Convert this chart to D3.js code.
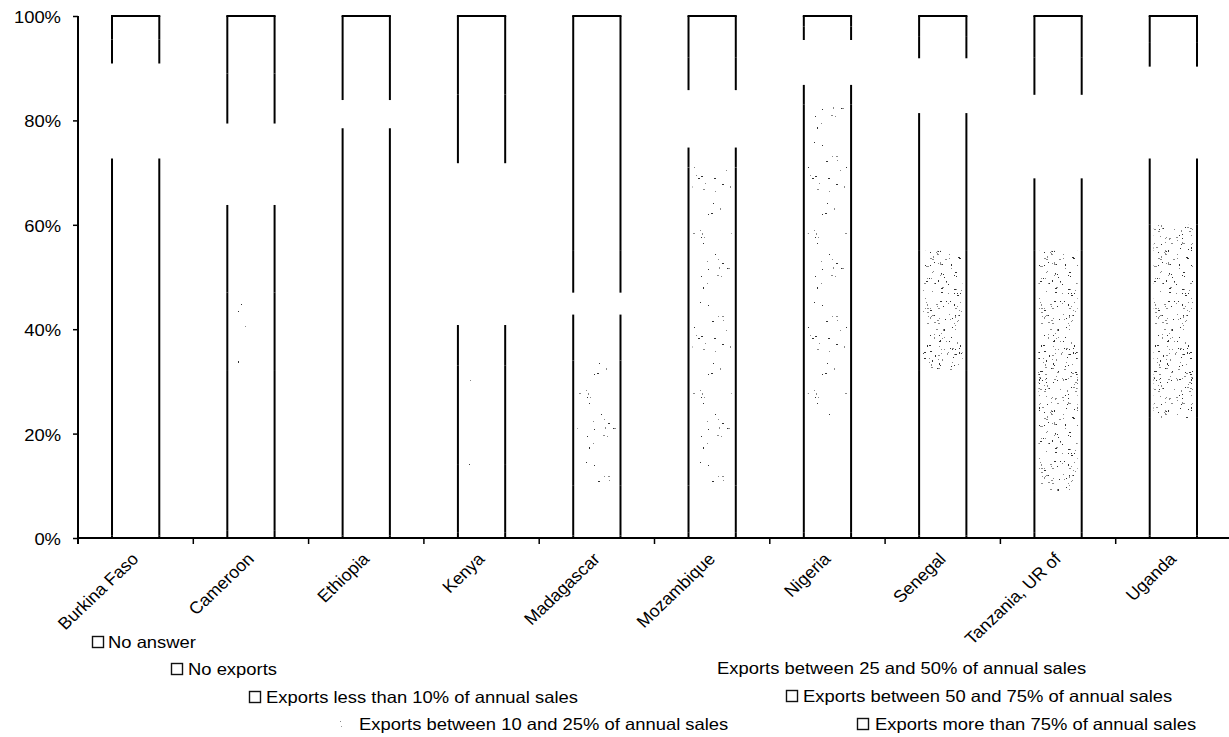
<!DOCTYPE html>
<html>
<head>
<meta charset="utf-8">
<script src="https://cdn.jsdelivr.net/npm/d3@7"></script>
<style>
  html, body { margin: 0; padding: 0; background: #fff; }
  svg { display: block; }
  text { font-family: "Liberation Sans", Arial, Helvetica, sans-serif; fill: #000; }
</style>
</head>
<body>
<svg id="chart" width="1229" height="737"></svg>
<script>
// ---------------- DATA (shares of firms, %) ----------------
const categories = ["Burkina Faso", "Cameroon", "Ethiopia", "Kenya", "Madagascar",
                    "Mozambique", "Nigeria", "Senegal", "Tanzania, UR of", "Uganda"];

const seriesNames = [
  "No answer",
  "No exports",
  "Exports less than 10% of annual sales",
  "Exports between 10 and 25% of annual sales",
  "Exports between 25 and 50% of annual sales",
  "Exports between 50 and 75% of annual sales",
  "Exports more than 75% of annual sales"
];

const noAnswer     = [0.5, 1.5, 0.5, 1.0, 0.5, 1.0, 1.0, 0.5, 1.0, 0.5];
const noExports    = [72.2, 30.5, 78.0, 13.0, 9.5, 9.0, 22.0, 31.5, 8.0, 22.5];
const exportsLt10  = [0, 15.0, 0, 19.0, 24.0, 61.0, 60.0, 23.0, 46.0, 37.0];
const exports10_25 = [0, 16.8, 0, 7.8, 8.8, 3.8, 3.8, 26.4, 13.9, 12.7];
const exports25_50 = [18.2, 15.6, 5.4, 31.0, 4.2, 11.0, 8.6, 10.5, 16.0, 17.6];
const exports50_75 = [4.6, 9.6, 7.1, 13.2, 8.0, 6.2, 2.6, 4.1, 7.1, 4.7];
const exportsGt75  = [4.5, 11.0, 9.0, 15.0, 45.0, 8.0, 2.0, 4.0, 8.0, 5.0];

const yTickValues = [0, 20, 40, 60, 80, 100];
const yTickLabels = ["0%", "20%", "40%", "60%", "80%", "100%"];

// ---------------- STYLE / LAYOUT ----------------
const W = 1229, H = 737;
const plot = { left: 78, right: 1231, top: 16, bottom: 538 };
const STRETCH = 1.13;      // scanned text is slightly wider than tall
const FONT = 16.3;

// how each series was printed: side lines, stippled texture, or no outline at all
const seriesStyle = ["outline", "outline", "stipple", "outline", "none", "outline", "outline"];
// stipple density of the textured segment, per country
const stippleDensity = {
  "Burkina Faso": "sparse", "Cameroon": "sparse", "Ethiopia": "sparse", "Kenya": "sparse",
  "Madagascar": "medium", "Mozambique": "medium", "Nigeria": "medium",
  "Senegal": "dense", "Tanzania, UR of": "dense", "Uganda": "dense"
};
// legend layout (staggered as in the original)
const legendLayout = [
  { mx: 92, tx: 108, y: 648, marker: "box" },
  { mx: 171, tx: 188, y: 675, marker: "box" },
  { mx: 249, tx: 266, y: 703, marker: "box" },
  { mx: 340, tx: 359, y: 730, marker: "faint" },
  { mx: 700, tx: 717, y: 674, marker: "none" },
  { mx: 786, tx: 803, y: 702, marker: "box" },
  { mx: 857, tx: 875, y: 730, marker: "box" }
];

// ---------------- BUILD TABLE ----------------
const seriesArrays = [noAnswer, noExports, exportsLt10, exports10_25, exports25_50, exports50_75, exportsGt75];
const table = categories.map((c, i) => {
  const row = { country: c };
  seriesNames.forEach((s, k) => row[s] = seriesArrays[k][i]);
  return row;
});
const stacked = d3.stack().keys(seriesNames)(table);

const svg = d3.select("#chart");

const x = d3.scaleBand().domain(categories).range([plot.left, plot.right]).padding(0);
const y = d3.scaleLinear().domain([0, 100]).range([plot.bottom, plot.top]);
const barW = x.bandwidth() * 0.41;
const barX = c => x(c) + (x.bandwidth() - barW) / 2;

// ---------------- STIPPLE PATTERNS (texture only) ----------------
const defs = svg.append("defs");
function mulberry32(a) {
  return function () {
    a |= 0; a = a + 0x6D2B79F5 | 0;
    let t = Math.imul(a ^ a >>> 15, 1 | a);
    t = t + Math.imul(t ^ t >>> 7, 61 | t) ^ t;
    return ((t ^ t >>> 14) >>> 0) / 4294967296;
  };
}
const densities = { sparse: 5, medium: 40, dense: 230 };
Object.entries(densities).forEach(([name, n], idx) => {
  const rnd = mulberry32(9173 + idx * 3301);
  const pw = 38, ph = 160;
  const p = defs.append("pattern").attr("id", "stip-" + name)
    .attr("patternUnits", "userSpaceOnUse").attr("width", pw).attr("height", ph)
    .attr("x", 0).attr("y", 0);
  for (let i = 0; i < n; i++) {
    const r = rnd();
    p.append("rect").attr("x", Math.floor(rnd() * pw)).attr("y", Math.floor(rnd() * ph))
      .attr("width", r < 0.25 ? 2 : 1).attr("height", r > 0.85 ? 2 : 1)
      .attr("fill", rnd() < 0.4 ? "#333" : "#8a8a8a");
  }
});

// ---------------- BARS ----------------
const gBars = svg.append("g");
stacked.forEach((layer, k) => {
  const style = seriesStyle[k];
  const g = gBars.append("g").attr("class", "series-" + k);
  layer.forEach((d, i) => {
    const c = categories[i];
    const y0 = y(d[0]), y1 = y(d[1]);
    if (d[1] - d[0] <= 0) return;
    const bx = barX(c);
    if (style === "stipple") {
      g.append("rect").attr("x", bx + 4).attr("y", y1).attr("width", barW - 8).attr("height", y0 - y1)
        .attr("fill", "url(#stip-" + stippleDensity[c] + ")");
    }
    if (style !== "none") {
      g.append("line").attr("x1", bx).attr("x2", bx).attr("y1", y0).attr("y2", y1)
        .attr("stroke", "#000").attr("stroke-width", 2);
      g.append("line").attr("x1", bx + barW).attr("x2", bx + barW).attr("y1", y0).attr("y2", y1)
        .attr("stroke", "#000").attr("stroke-width", 2);
    }
    if (k === stacked.length - 1) {
      g.append("line").attr("x1", bx - 1).attr("x2", bx + barW + 1).attr("y1", y1).attr("y2", y1)
        .attr("stroke", "#000").attr("stroke-width", 2);
    }
  });
});

// ---------------- AXES ----------------
const yAxis = svg.append("g").attr("transform", `translate(${plot.left},0)`)
  .call(d3.axisLeft(y).tickValues(yTickValues).tickSize(5).tickFormat(""));
yAxis.select(".domain").attr("stroke", "#000").attr("stroke-width", 2)
  .attr("d", `M0,${plot.top}V${plot.bottom + 6}`);
yAxis.selectAll(".tick line").attr("stroke", "#000").attr("stroke-width", 1.5);

yTickValues.forEach((v, i) => {
  svg.append("g").attr("transform", `translate(${plot.left - 17},${y(v) + 7}) scale(${STRETCH},1)`)
    .append("text").attr("text-anchor", "end").attr("font-size", FONT).text(yTickLabels[i]);
});

// x axis line + ticks at band boundaries
const xAxis = svg.append("g").attr("transform", `translate(0,${plot.bottom})`)
  .call(d3.axisBottom(x).tickSize(6).tickFormat(""));
xAxis.select(".domain").attr("stroke", "#000").attr("stroke-width", 2)
  .attr("d", `M${plot.left},0H${W}`);
xAxis.selectAll(".tick").attr("transform", d => `translate(${x(d) + x.bandwidth()},0)`);
xAxis.selectAll(".tick line").attr("stroke", "#000").attr("stroke-width", 1.5);

categories.forEach(c => {
  const cx = x(c) + x.bandwidth() / 2;
  svg.append("g").attr("transform", `translate(${cx + 4},${plot.bottom + 22}) scale(1.05,1) rotate(-45)`)
    .append("text").attr("text-anchor", "end").attr("font-size", 17).text(c);
});

// ---------------- LEGEND ----------------
seriesNames.forEach((s, k) => {
  const L = legendLayout[k];
  if (L.marker === "box") {
    svg.append("rect").attr("x", L.mx + 0.5).attr("y", L.y - 11.5).attr("width", 11).attr("height", 11)
      .attr("fill", "#fff").attr("stroke", "#111").attr("stroke-width", 1.4);
  } else if (L.marker === "faint") {
    svg.append("rect").attr("x", L.mx).attr("y", L.y - 9).attr("width", 1).attr("height", 1).attr("fill", "#888");
    svg.append("rect").attr("x", L.mx + 1).attr("y", L.y - 4).attr("width", 1).attr("height", 1).attr("fill", "#999");
  }
  svg.append("g").attr("transform", `translate(${L.tx},${L.y}) scale(${STRETCH},1)`)
    .append("text").attr("font-size", FONT).text(s);
});
</script>
</body>
</html>
